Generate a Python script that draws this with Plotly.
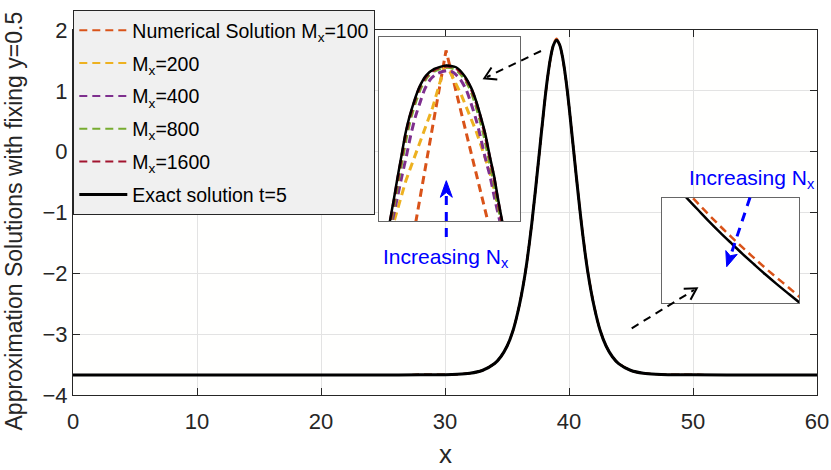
import plotly.graph_objects as go

# ---------------- data ----------------
main_x = [0, 5, 10, 15, 20, 25, 28, 29, 30, 31, 32, 33, 34, 34.5, 35, 35.5, 36, 36.5, 37, 37.5,
          38, 38.25, 38.5, 38.75, 39, 39.25, 39.5, 39.75, 40, 40.5, 41, 41.5, 42, 42.5, 43, 43.5,
          44, 45, 46, 47, 48, 49, 50, 55, 60]
exact_main_y = [-3.67, -3.67, -3.67, -3.67, -3.67, -3.67, -3.669, -3.668, -3.666, -3.659, -3.642,
                -3.597, -3.483, -3.371, -3.199, -2.931, -2.521, -1.957, -1.178, -0.232,
                0.754, 1.187, 1.531, 1.753, 1.83, 1.753, 1.531, 1.187, 0.754, -0.232, -1.178,
                -1.957, -2.521, -2.931, -3.199, -3.371, -3.483, -3.597, -3.642, -3.659, -3.666,
                -3.668, -3.669, -3.67, -3.67]
mx100_main_y = [-3.67, -3.67, -3.67, -3.67, -3.67, -3.67, -3.669, -3.668, -3.666, -3.659, -3.642,
                -3.597, -3.483, -3.371, -3.199, -2.931, -2.521, -1.957, -1.178, -0.232,
                0.72, 1.16, 1.50, 1.78, 1.86, 1.76, 1.50, 1.16, 0.74, -0.20, -1.15,
                -1.93, -2.50, -2.92, -3.19, -3.37, -3.48, -3.597, -3.642, -3.659, -3.666,
                -3.668, -3.669, -3.67, -3.67]
mx200_main_y = exact_main_y
mx400_main_y = exact_main_y
mx800_main_y = exact_main_y
mx1600_main_y = exact_main_y

# zoom 1 (peak)
z1_exact_x = [38.55, 38.581, 38.611, 38.635, 38.661, 38.690, 38.718, 38.754, 38.789, 38.837, 38.896,
              38.979, 39.050, 39.109, 39.156, 39.192, 39.227, 39.258, 39.291, 39.322, 39.346, 39.377, 39.41]
z1_exact_y = [1.507, 1.55, 1.592, 1.628, 1.664, 1.705, 1.735, 1.765, 1.789, 1.810, 1.822,
              1.828, 1.825, 1.810, 1.789, 1.765, 1.735, 1.705, 1.664, 1.628, 1.592, 1.55, 1.505]
z1_mx1600_x = [38.553, 38.584, 38.614, 38.638, 38.664, 38.693, 38.721, 38.757, 38.792, 38.840, 38.899,
               38.979, 39.047, 39.106, 39.153, 39.189, 39.224, 39.255, 39.288, 39.319, 39.343, 39.374, 39.407]
z1_mx1600_y = [1.507, 1.55, 1.592, 1.628, 1.664, 1.705, 1.735, 1.765, 1.789, 1.809, 1.821,
               1.827, 1.824, 1.809, 1.789, 1.765, 1.735, 1.705, 1.664, 1.628, 1.592, 1.55, 1.505]
z1_mx800_x = [38.556, 38.589, 38.620, 38.645, 38.672, 38.702, 38.730, 38.766, 38.800, 38.847, 38.904,
              38.980, 39.042, 39.099, 39.146, 39.181, 39.215, 39.246, 39.280, 39.312, 39.337, 39.370, 39.404]
z1_mx800_y = [1.507, 1.55, 1.592, 1.628, 1.664, 1.705, 1.735, 1.765, 1.788, 1.808, 1.819,
              1.825, 1.822, 1.808, 1.788, 1.764, 1.735, 1.705, 1.664, 1.628, 1.592, 1.55, 1.505]
z1_mx400_x = [38.565, 38.598, 38.634, 38.664, 38.696, 38.730, 38.760, 38.796, 38.828, 38.870, 38.918,
              38.983, 39.030, 39.078, 39.120, 39.153, 39.188, 39.219, 39.256, 39.293, 39.322, 39.360, 39.395]
z1_mx400_y = [1.507, 1.55, 1.592, 1.628, 1.664, 1.705, 1.735, 1.763, 1.786, 1.804, 1.814,
              1.819, 1.816, 1.804, 1.786, 1.763, 1.735, 1.705, 1.664, 1.628, 1.592, 1.55, 1.505]
z1_mx200_x = [38.58, 38.611, 38.694, 38.789, 38.884, 38.967, 38.991, 39.085, 39.192, 39.287, 39.370, 39.40]
z1_mx200_y = [1.53, 1.55, 1.622, 1.6875, 1.753, 1.825, 1.825, 1.777, 1.711, 1.640, 1.55, 1.52]
z1_mx100_x = [38.70, 38.979, 39.35]
z1_mx100_y = [1.456, 1.855, 1.473]

# zoom 2 (right flank)
z2_x = [41.25, 41.30, 41.35, 41.40, 41.45, 41.50, 41.55, 41.60, 41.65, 41.70, 41.75, 41.80, 41.85]
z2_exact_y = [-1.595, -1.670, -1.744, -1.818, -1.889, -1.957, -2.024, -2.088, -2.151, -2.211,
              -2.269, -2.326, -2.380]
z2_mx100_y = [-1.555, -1.630, -1.704, -1.778, -1.849, -1.917, -1.984, -2.048, -2.111, -2.171,
              -2.229, -2.290, -2.350]

x_ticks = [0, 10, 20, 30, 40, 50, 60]
y_ticks = [-4, -3, -2, -1, 0, 1, 2]

names = ["Numerical Solution M<sub>x</sub>=100", "M<sub>x</sub>=200", "M<sub>x</sub>=400",
         "M<sub>x</sub>=800", "M<sub>x</sub>=1600"]
colors = ["#D95319", "#EDB120", "#7E2F8E", "#77AC30", "#A2142F"]
main_series = [mx100_main_y, mx200_main_y, mx400_main_y, mx800_main_y, mx1600_main_y]
z1_series = [(z1_mx100_x, z1_mx100_y, 'linear'), (z1_mx200_x, z1_mx200_y, 'linear'),
             (z1_mx400_x, z1_mx400_y, 'spline'), (z1_mx800_x, z1_mx800_y, 'spline'),
             (z1_mx1600_x, z1_mx1600_y, 'spline')]

FONT = "Liberation Sans, Arial, sans-serif"
TXT = "#262626"

fig = go.Figure()
for i, (nm, c, ys) in enumerate(zip(names, colors, main_series)):
    fig.add_trace(go.Scatter(x=main_x, y=ys, mode="lines", name=nm, legendgroup=f"g{i}",
                             line=dict(color=c, width=2, dash="8px,5px", shape="spline", smoothing=0.8)))
fig.add_trace(go.Scatter(x=main_x, y=exact_main_y, mode="lines", name="Exact solution t=5",
                         legendgroup="g5",
                         line=dict(color="black", width=3, shape="spline", smoothing=0.8)))

# inset 1
for (xs, ys, shp), c in zip(z1_series, colors):
    fig.add_trace(go.Scatter(x=xs, y=ys, mode="lines", showlegend=False, xaxis="x2", yaxis="y2",
                             line=dict(color=c, width=3, dash="8px,5px", shape=shp, smoothing=0.6)))
fig.add_trace(go.Scatter(x=z1_exact_x, y=z1_exact_y, mode="lines", showlegend=False, xaxis="x2", yaxis="y2",
                         line=dict(color="black", width=2.5, shape="spline", smoothing=0.6)))
# inset 2
fig.add_trace(go.Scatter(x=z2_x, y=z2_mx100_y, mode="lines", showlegend=False, xaxis="x3", yaxis="y3",
                         line=dict(color=colors[0], width=2.5, dash="8px,5px", shape="spline")))
fig.add_trace(go.Scatter(x=z2_x, y=z2_exact_y, mode="lines", showlegend=False, xaxis="x3", yaxis="y3",
                         line=dict(color="black", width=2.5, shape="spline")))

L, T, W, H = 73, 30, 744, 365


def P(px, py):
    return (px - L) / W, (T + H - py) / H


def seg(p0, p1, color, width, dash):
    a, b = P(*p0), P(*p1)
    return dict(type="line", xref="paper", yref="paper", x0=a[0], y0=a[1], x1=b[0], y1=b[1],
                line=dict(color=color, width=width, dash=dash))


def path(pts, color, width, fill=None):
    s = ""
    for k, p in enumerate(pts):
        q = P(*p)
        s += ("M" if k == 0 else "L") + f"{q[0]:.5f},{q[1]:.5f} "
    if fill:
        s += "Z"
    d = dict(type="path", xref="paper", yref="paper", path=s, line=dict(color=color, width=width))
    if fill:
        d["fillcolor"] = fill
    return d


shapes = [
    seg((541, 51), (487, 77), "black", 2, "8px,6px"),
    path([(497.3, 79.5), (484.3, 78.3), (491.5, 67.5)], "black", 2),
    seg((631.7, 328.3), (694, 290), "black", 2, "8px,6px"),
    path([(683.7, 288.7), (696.7, 288.3), (690.5, 299.7)], "black", 2),
    seg((446.3, 237), (446.3, 192), "#0000FF", 3, "9px,7px"),
    path([(446.3, 180.7), (440.3, 197.3), (446.3, 192.5), (452.3, 197.3)], "#0000FF", 1, "#0000FF"),
    seg((750, 197.5), (730.5, 256), "#0000FF", 3, "9px,7px"),
    path([(726.7, 266.7), (725.8, 250.6), (730.2, 255.8), (737.2, 254.4)], "#0000FF", 1, "#0000FF"),
]

ytx, yty = P(13, 221.5)
xtx, xty = P(445, 471)
a1x, a1y = P(445.5, 258)
a2x, a2y = P(751.5, 179)
annotations = [
    dict(text="Approximation Solutions with fixing y=0.5", x=ytx, y=yty, xref="paper", yref="paper",
         textangle=-90, showarrow=False, font=dict(size=23, color=TXT, family=FONT),
         xanchor="center", yanchor="middle"),
    dict(text="x", x=xtx, y=xty, xref="paper", yref="paper", showarrow=False,
         font=dict(size=26, color=TXT, family=FONT), xanchor="center", yanchor="bottom"),
    dict(text="Increasing N<sub>x</sub>", x=a1x, y=a1y, xref="paper", yref="paper", showarrow=False,
         font=dict(size=21, color="#0000FF", family=FONT), xanchor="center", yanchor="middle"),
    dict(text="Increasing N<sub>x</sub>", x=a2x, y=a2y, xref="paper", yref="paper", showarrow=False,
         font=dict(size=21, color="#0000FF", family=FONT), xanchor="center", yanchor="middle"),
]

i1x0, i1y1 = P(378.5, 36.5)
i1x1, i1y0 = P(519.5, 221)
i2x0, i2y1 = P(661.7, 197.7)
i2x1, i2y0 = P(799, 303.3)
lgx, lgy = P(73.3, 10)

inset_axis = dict(showticklabels=False, ticks="", showgrid=False, zeroline=False,
                  showline=True, mirror=True, linecolor="#666666", linewidth=1.3)

fig.update_layout(
    width=831, height=470, autosize=False,
    margin=dict(l=L, r=831 - L - W, t=T, b=470 - T - H, autoexpand=False),
    paper_bgcolor="white", plot_bgcolor="#fffffe",
    font=dict(family=FONT, color=TXT),
    xaxis=dict(range=[0, 60], tickvals=x_ticks, ticks="inside", ticklen=7, tickcolor=TXT,
               showline=True, linecolor=TXT, linewidth=1, mirror="allticks",
               showgrid=True, gridcolor="#e3e3e3", zeroline=False, ticklabelstandoff=7,
               tickfont=dict(size=22, color=TXT, family=FONT)),
    yaxis=dict(range=[-4, 2], tickvals=y_ticks, ticks="inside", ticklen=7, tickcolor=TXT,
               showline=True, linecolor=TXT, linewidth=1, mirror="allticks",
               showgrid=True, gridcolor="#e3e3e3", zeroline=False,
               tickfont=dict(size=22, color=TXT, family=FONT)),
    xaxis2=dict(domain=[i1x0, i1x1], range=[38.5, 39.5], anchor="y2", **inset_axis),
    yaxis2=dict(domain=[i1y0, i1y1], range=[1.55, 1.88], anchor="x2", **inset_axis),
    xaxis3=dict(domain=[i2x0, i2x1], range=[41.19, 41.80], anchor="y3", **inset_axis),
    yaxis3=dict(domain=[i2y0, i2y1], range=[-2.333, -1.67], anchor="x3", **inset_axis),
    legend=dict(x=lgx, y=lgy, xanchor="left", yanchor="top", bgcolor="#f0f0f0",
                bordercolor=TXT, borderwidth=1, font=dict(size=19.5, color="black", family=FONT),
                itemwidth=48, tracegroupgap=4.5, traceorder="grouped"),
    shapes=shapes, annotations=annotations, showlegend=True,
)

fig.write_html("out.html")
